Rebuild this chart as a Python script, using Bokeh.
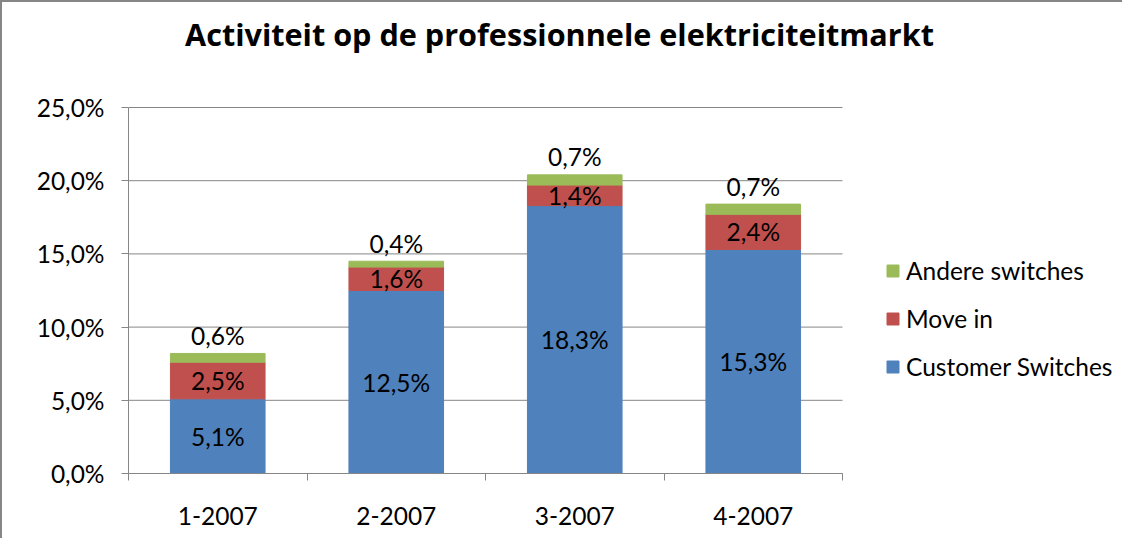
from bokeh.plotting import figure
from bokeh.models import ColumnDataSource, FixedTicker, Legend, LegendItem, Label
from bokeh.core.properties import value
from bokeh.embed import file_html
from bokeh.resources import INLINE

# ---- data ----
categories = ["1-2007", "2-2007", "3-2007", "4-2007"]
customer_switches = [5.1, 12.5, 18.3, 15.3]
move_in = [2.5, 1.6, 1.4, 2.4]
andere_switches = [0.6, 0.4, 0.7, 0.7]
series_names = ["Customer Switches", "Move in", "Andere switches"]
y_ticks = [0, 5, 10, 15, 20, 25]
y_tick_labels = ["0,0%", "5,0%", "10,0%", "15,0%", "20,0%", "25,0%"]
title_text = "Activiteit op de professionnele elektriciteitmarkt"

colors = ["#4F81BD", "#C0504D", "#9BBB59"]
GRAY = "#868686"
FONT = "Lato"
TXT = "24.5px"

# ---- layout (pixels) ----
W, H = 1122, 538
LEFT, BOTTOM = 126, 67
CAT_PX = 178.5            # width of one category slot
PCT_PX = 14.64            # pixels per 1 %
n = len(categories)
y_max = y_ticks[-1]
frame_w = W - LEFT
frame_h = H - BOTTOM
x_end = frame_w / CAT_PX
y_end = frame_h / PCT_PX

def pct(v):
    return f"{v:.1f}%".replace(".", ",")

xs = [i + 0.5 for i in range(n)]
src = ColumnDataSource(dict(
    x=xs, cs=customer_switches, mi=move_in, an=andere_switches,
    cs_mid=[c / 2 for c in customer_switches],
    mi_mid=[c + m / 2 for c, m in zip(customer_switches, move_in)],
    top=[c + m + a for c, m, a in zip(customer_switches, move_in, andere_switches)],
    cs_lbl=[pct(v) for v in customer_switches],
    mi_lbl=[pct(v) for v in move_in],
    an_lbl=[pct(v) for v in andere_switches],
))

p = figure(width=W, height=H, x_range=(0, x_end), y_range=(0, y_end),
           output_backend="svg", toolbar_location=None,
           min_border_left=LEFT, min_border_right=0, min_border_top=0, min_border_bottom=BOTTOM)
p.styles = {"border-top": f"2px solid {GRAY}", "border-left": f"2px solid {GRAY}"}
p.outline_line_color = None
p.background_fill_color = "white"
p.border_fill_color = "white"

# gridlines (limited to the category area)
p.xgrid.visible = False
p.ygrid.visible = False
p.segment(x0=[0] * len(y_ticks), x1=[n] * len(y_ticks), y0=y_ticks, y1=y_ticks,
          line_color=GRAY, line_width=1)

renderers = p.vbar_stack(["cs", "mi", "an"], x="x", width=0.53, color=colors, source=src)

lbl_kw = dict(text_font=value(FONT), text_font_size=TXT, text_color="black",
              text_align="center", text_baseline="middle")
p.text(x="x", y="cs_mid", text="cs_lbl", source=src, **lbl_kw)
p.text(x="x", y="mi_mid", text="mi_lbl", source=src, **lbl_kw)
p.text(x="x", y="top", text="an_lbl", source=src, y_offset=-18, **lbl_kw)

# title
p.add_layout(Label(x=431 / CAT_PX, y=440 / PCT_PX, text=title_text,
                   text_font="Open Sans", text_font_size="30.6px", text_font_style="bold",
                   text_align="center", text_baseline="middle", text_color="black"))

# axes
p.yaxis.ticker = FixedTicker(ticks=y_ticks)
p.yaxis.bounds = (0, y_max)
p.yaxis.major_label_overrides = {t: l for t, l in zip(y_ticks, y_tick_labels)}
p.xaxis.ticker = FixedTicker(ticks=xs, minor_ticks=list(range(n + 1)))
p.xaxis.bounds = (0, n)
p.xaxis.major_label_overrides = {x: c for x, c in zip(xs, categories)}
for ax in (p.xaxis, p.yaxis):
    ax.axis_line_color = GRAY
    ax.major_label_text_font = FONT
    ax.major_label_text_font_size = TXT
    ax.major_label_text_color = "black"
p.yaxis.major_tick_line_color = GRAY
p.yaxis.major_tick_out = 7
p.yaxis.major_tick_in = 0
p.yaxis.minor_tick_line_color = None
p.yaxis.major_label_standoff = 17
p.xaxis.major_tick_line_color = None
p.xaxis.minor_tick_line_color = GRAY
p.xaxis.minor_tick_out = 7
p.xaxis.minor_tick_in = 0
p.xaxis.major_label_standoff = 26

legend = Legend(items=[
    LegendItem(label=series_names[2], renderers=[renderers[2]]),
    LegendItem(label=series_names[1], renderers=[renderers[1]]),
    LegendItem(label=series_names[0], renderers=[renderers[0]]),
], location=(757, 92))
legend.padding = 0
legend.margin = 0
legend.border_line_color = None
legend.background_fill_alpha = 0
legend.glyph_width = 15
legend.glyph_height = 15
legend.label_height = 24
legend.spacing = 19
legend.label_standoff = 6
legend.label_text_font = FONT
legend.label_text_font_size = TXT
legend.label_text_color = "black"
p.add_layout(legend)

open("out.html", "w").write(file_html(p, INLINE))
